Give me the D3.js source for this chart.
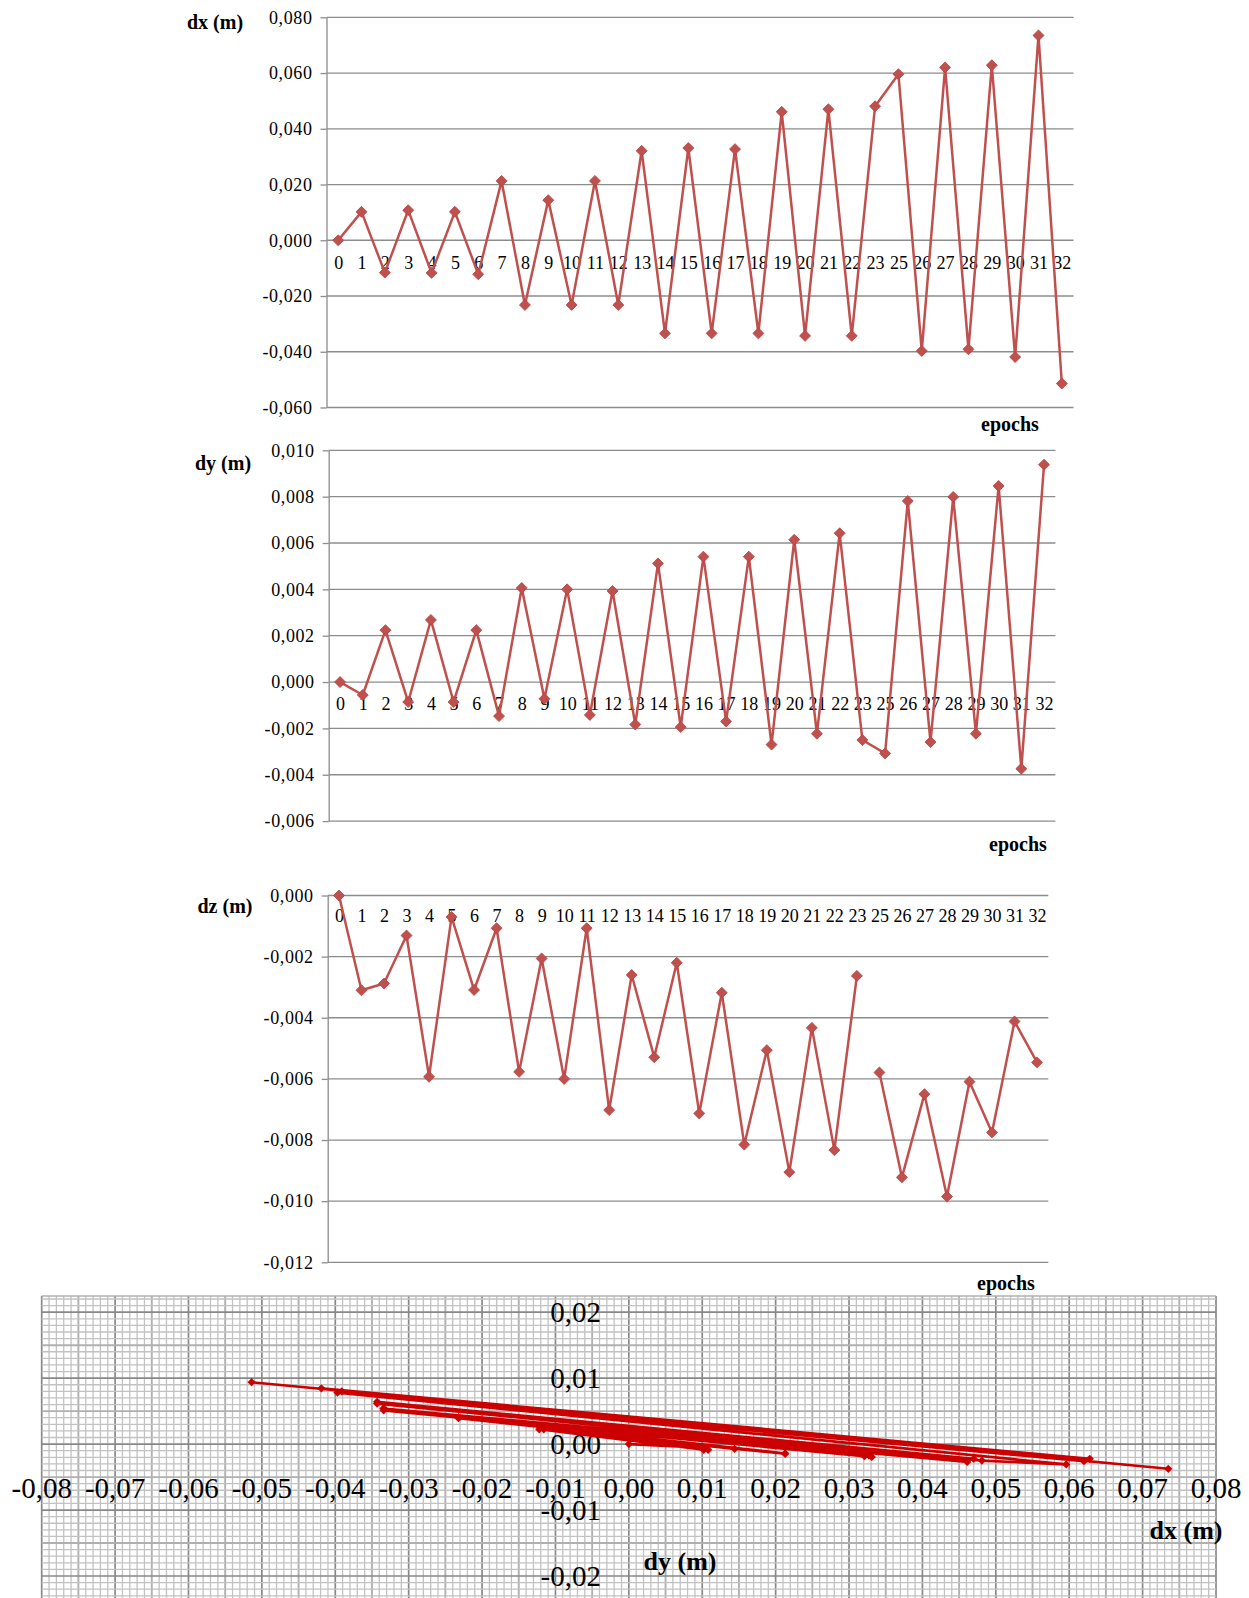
<!DOCTYPE html>
<html>
<head>
<meta charset="utf-8">
<script src="https://cdn.jsdelivr.net/npm/d3@7/dist/d3.min.js"></script>
<style>
  body { margin: 0; background: #fff; }
  svg text { font-family: "Liberation Serif", "Times New Roman", serif; fill: #000; }
</style>
</head>
<body>
<div id="chart"></div>
<script>

// epochs (24 is missing in the source)
var epochs = ['0','1','2','3','4','5','6','7','8','9','10','11','12','13','14','15',
              '16','17','18','19','20','21','22','23','25','26','27','28','29','30','31','32'];

// displacements per epoch (m)
var dx = [0.0000, 0.0102, -0.0116, 0.0108, -0.0117, 0.0102, -0.0122, 0.0213,
          -0.0232, 0.0144, -0.0232, 0.0213, -0.0232, 0.0321, -0.0334, 0.0331,
          -0.0334, 0.0327, -0.0334, 0.0461, -0.0343, 0.0470, -0.0343, 0.0481,
          0.0596, -0.0397, 0.0620, -0.0391, 0.0628, -0.0419, 0.0735, -0.0514];

var dy = [0.0000, -0.00056, 0.00224, -0.00086, 0.00268, -0.00086, 0.00224, -0.00147,
          0.00406, -0.00072, 0.00400, -0.00142, 0.00393, -0.00183, 0.00512, -0.00194,
          0.00541, -0.00170, 0.00541, -0.00270, 0.00614, -0.00223, 0.00642, -0.00250,
          -0.00308, 0.00781, -0.00259, 0.00799, -0.00223, 0.00846, -0.00374, 0.00938];

var dz = [0.0000, -0.00310, -0.00288, -0.00131, -0.00593, -0.00070, -0.00309, -0.00107,
          -0.00577, -0.00206, -0.00600, -0.00107, -0.00702, -0.00260, -0.00529, -0.00220,
          -0.00713, -0.00318, -0.00815, -0.00506, -0.00905, -0.00433, -0.00833, -0.00263,
          -0.00579, -0.00922, -0.00650, -0.00985, -0.00609, -0.00775, -0.00412, -0.00546];

// the dz line is broken after these epochs
var dzGapAfter = ['23'];

// y axis tick values
var dxTicks = [0.08, 0.06, 0.04, 0.02, 0, -0.02, -0.04, -0.06];
var dyTicks = [0.010, 0.008, 0.006, 0.004, 0.002, 0, -0.002, -0.004, -0.006];
var dzTicks = [0, -0.002, -0.004, -0.006, -0.008, -0.010, -0.012];

// ticks of the dx/dy plot on graph paper
var planXTicks = [-0.08, -0.07, -0.06, -0.05, -0.04, -0.03, -0.02, -0.01, 0, 0.01, 0.02, 0.03, 0.04, 0.05, 0.06, 0.07, 0.08];
var planYTicks = [0.02, 0.01, 0, -0.01, -0.02];

var locale = d3.formatLocale({decimal: ',', thousands: '.', grouping: [3], currency: ['', ''], minus: '-'});
var fmt3 = locale.format('.3f'),
    fmt2 = locale.format('.2f');

var lineColor = '#c0504d',
    gridColor = '#8c8c8c';

var width = 1249,
    height = 1598;

var svg = d3.select('#chart')
      .append('svg')
      .attr('width', width)
      .attr('height', height);

// one epoch chart (dx, dy or dz)
var drawEpochChart = (o) => {

  var x = d3.scalePoint().domain(epochs).range([o.left, o.right]).padding(0.5),
      y = d3.scaleLinear().domain(o.domain).range([o.bottom, o.top]);

  var g = svg.append('g');

  // horizontal gridlines
  g.selectAll('line.grid')
    .data(o.ticks)
    .enter()
    .append('line')
      .attr('x1', o.left)
      .attr('x2', o.right)
      .attr('y1', d => y(d))
      .attr('y2', d => y(d))
      .style('stroke', gridColor)
      .style('stroke-width', 1.3);

  // value axis on the left
  var yAxis = g.append('g')
      .attr('transform', 'translate(' + o.left + ',0)')
      .call(d3.axisLeft(y).tickValues(o.ticks).tickFormat(fmt3).tickSizeInner(6).tickSizeOuter(0).tickPadding(8));
  yAxis.selectAll('path, line').style('stroke', gridColor).style('stroke-width', 1.3);
  yAxis.selectAll('text')
      .style('font-size', '18px')
      .style('letter-spacing', '0.6px')
      .style('font-family', '"Liberation Serif", serif')
      .attr('fill', '#222');

  // category labels just under the zero line
  var xAxis = g.append('g')
      .attr('transform', 'translate(0,' + y(0) + ')')
      .call(d3.axisBottom(x).tickSize(0).tickPadding(o.labelPad));
  xAxis.select('.domain').remove();
  xAxis.selectAll('text')
      .style('font-size', '18px')
      .style('font-family', '"Liberation Serif", serif')
      .attr('fill', '#222');

  var line = d3.line()
    .x(d => x(d.epoch))
    .y(d => y(d.value));

  // split into segments where the series is broken
  var segments = [[]];
  epochs.forEach(function(e, i) {
    segments[segments.length - 1].push({epoch: e, value: o.values[i]});
    if (o.gaps && o.gaps.indexOf(e) >= 0) segments.push([]);
  });

  g.selectAll('path.series')
    .data(segments)
    .enter()
    .append('path')
      .attr('d', line)
      .style('fill', 'none')
      .style('stroke', lineColor)
      .style('stroke-width', 2.5)
      .style('stroke-linejoin', 'round');

  g.selectAll('path.marker')
    .data(epochs)
    .enter()
    .append('path')
      .attr('d', d3.symbol().type(d3.symbolSquare).size(60))
      .attr('transform', (d, i) => 'translate(' + x(d) + ',' + y(o.values[i]) + ') rotate(45)')
      .style('fill', lineColor)
      .style('stroke', '#b44643')
      .style('stroke-width', 0.8);

  g.append('text')
      .attr('x', o.titleX)
      .attr('y', o.titleY)
      .attr('text-anchor', 'middle')
      .style('font-size', '20px')
      .style('font-weight', 'bold')
      .text(o.title);

  g.append('text')
      .attr('x', o.epochsX)
      .attr('y', o.epochsY)
      .attr('text-anchor', 'middle')
      .style('font-size', '20px')
      .style('font-weight', 'bold')
      .text('epochs');
};

// dx / dy on graph paper
var drawPlan = () => {

  var left = 41.7, right = 1216, top = 1296, bottom = 1598;

  var x = d3.scaleLinear().domain([-0.08, 0.08]).range([left, right]),
      y = d3.scaleLinear().domain([-0.02, 0.02]).range([1576, 1312.2]);

  var g = svg.append('g');

  // millimetre paper: a line every 0.001, darker every 0.01
  var vx = d3.range(-80, 81),
      hy = d3.range(-23, 23);

  var kind = (i) => (i % 10 === 0) ? 2 : (i % 5 === 0 ? 1 : 0);
  var gStroke = ['#c2c2c2', '#b0b0b0', '#888888'],
      gWidth = [1.3, 1.9, 1.7];

  g.selectAll('line.v')
    .data(vx)
    .enter()
    .append('line')
      .attr('x1', i => x(i / 1000)).attr('x2', i => x(i / 1000))
      .attr('y1', top).attr('y2', bottom)
      .style('stroke', i => gStroke[kind(i)])
      .style('stroke-width', i => gWidth[kind(i)]);

  g.selectAll('line.h')
    .data(hy)
    .enter()
    .append('line')
      .attr('x1', left).attr('x2', right)
      .attr('y1', i => y(i / 1000)).attr('y2', i => y(i / 1000))
      .style('stroke', i => gStroke[kind(i)])
      .style('stroke-width', i => gWidth[kind(i)]);

  g.append('line')
      .attr('x1', left).attr('x2', right)
      .attr('y1', top).attr('y2', top)
      .style('stroke', '#b0b0b0')
      .style('stroke-width', 1.5);

  // tick labels
  g.selectAll('text.xt')
    .data(planXTicks)
    .enter()
    .append('text')
      .attr('x', d => x(d))
      .attr('y', 1498)
      .attr('text-anchor', 'middle')
      .style('font-size', '29px')
      .text(d => fmt2(d));

  g.selectAll('text.yt')
    .data(planYTicks)
    .enter()
    .append('text')
      .attr('x', 601)
      .attr('y', d => y(d) + 10)
      .attr('text-anchor', 'end')
      .style('font-size', '29px')
      .text(d => fmt2(d));

  var pts = epochs.map((e, i) => ({dx: dx[i], dy: dy[i]}));

  var line = d3.line()
    .x(d => x(d.dx))
    .y(d => y(d.dy));

  g.append('path')
      .datum(pts)
      .attr('d', line)
      .style('fill', 'none')
      .style('stroke', '#cc0000')
      .style('stroke-width', 2.6)
      .style('stroke-linejoin', 'round');

  g.selectAll('path.pm')
    .data(pts)
    .enter()
    .append('path')
      .attr('d', d3.symbol().type(d3.symbolSquare).size(34))
      .attr('transform', d => 'translate(' + x(d.dx) + ',' + y(d.dy) + ') rotate(45)')
      .style('fill', '#cc0000');

  g.append('text')
      .attr('x', 1186)
      .attr('y', 1539)
      .attr('text-anchor', 'middle')
      .style('font-size', '26px')
      .style('font-weight', 'bold')
      .text('dx (m)');

  g.append('text')
      .attr('x', 680)
      .attr('y', 1570)
      .attr('text-anchor', 'middle')
      .style('font-size', '26px')
      .style('font-weight', 'bold')
      .text('dy (m)');
};

drawEpochChart({values: dx, ticks: dxTicks, domain: [-0.06, 0.08],
  left: 326.5, right: 1073.5, top: 17.3, bottom: 407.5, labelPad: 16,
  title: 'dx (m)', titleX: 215, titleY: 29, epochsX: 1010, epochsY: 431});

drawEpochChart({values: dy, ticks: dyTicks, domain: [-0.006, 0.010],
  left: 328.7, right: 1055.4, top: 450.3, bottom: 821.1, labelPad: 15,
  title: 'dy (m)', titleX: 223, titleY: 470, epochsX: 1018, epochsY: 851});

drawEpochChart({values: dz, ticks: dzTicks, domain: [-0.012, 0], gaps: dzGapAfter,
  left: 327.7, right: 1048.3, top: 895.5, bottom: 1262.3, labelPad: 14,
  title: 'dz (m)', titleX: 225, titleY: 913, epochsX: 1006, epochsY: 1290});

drawPlan();

</script>
</body>
</html>
